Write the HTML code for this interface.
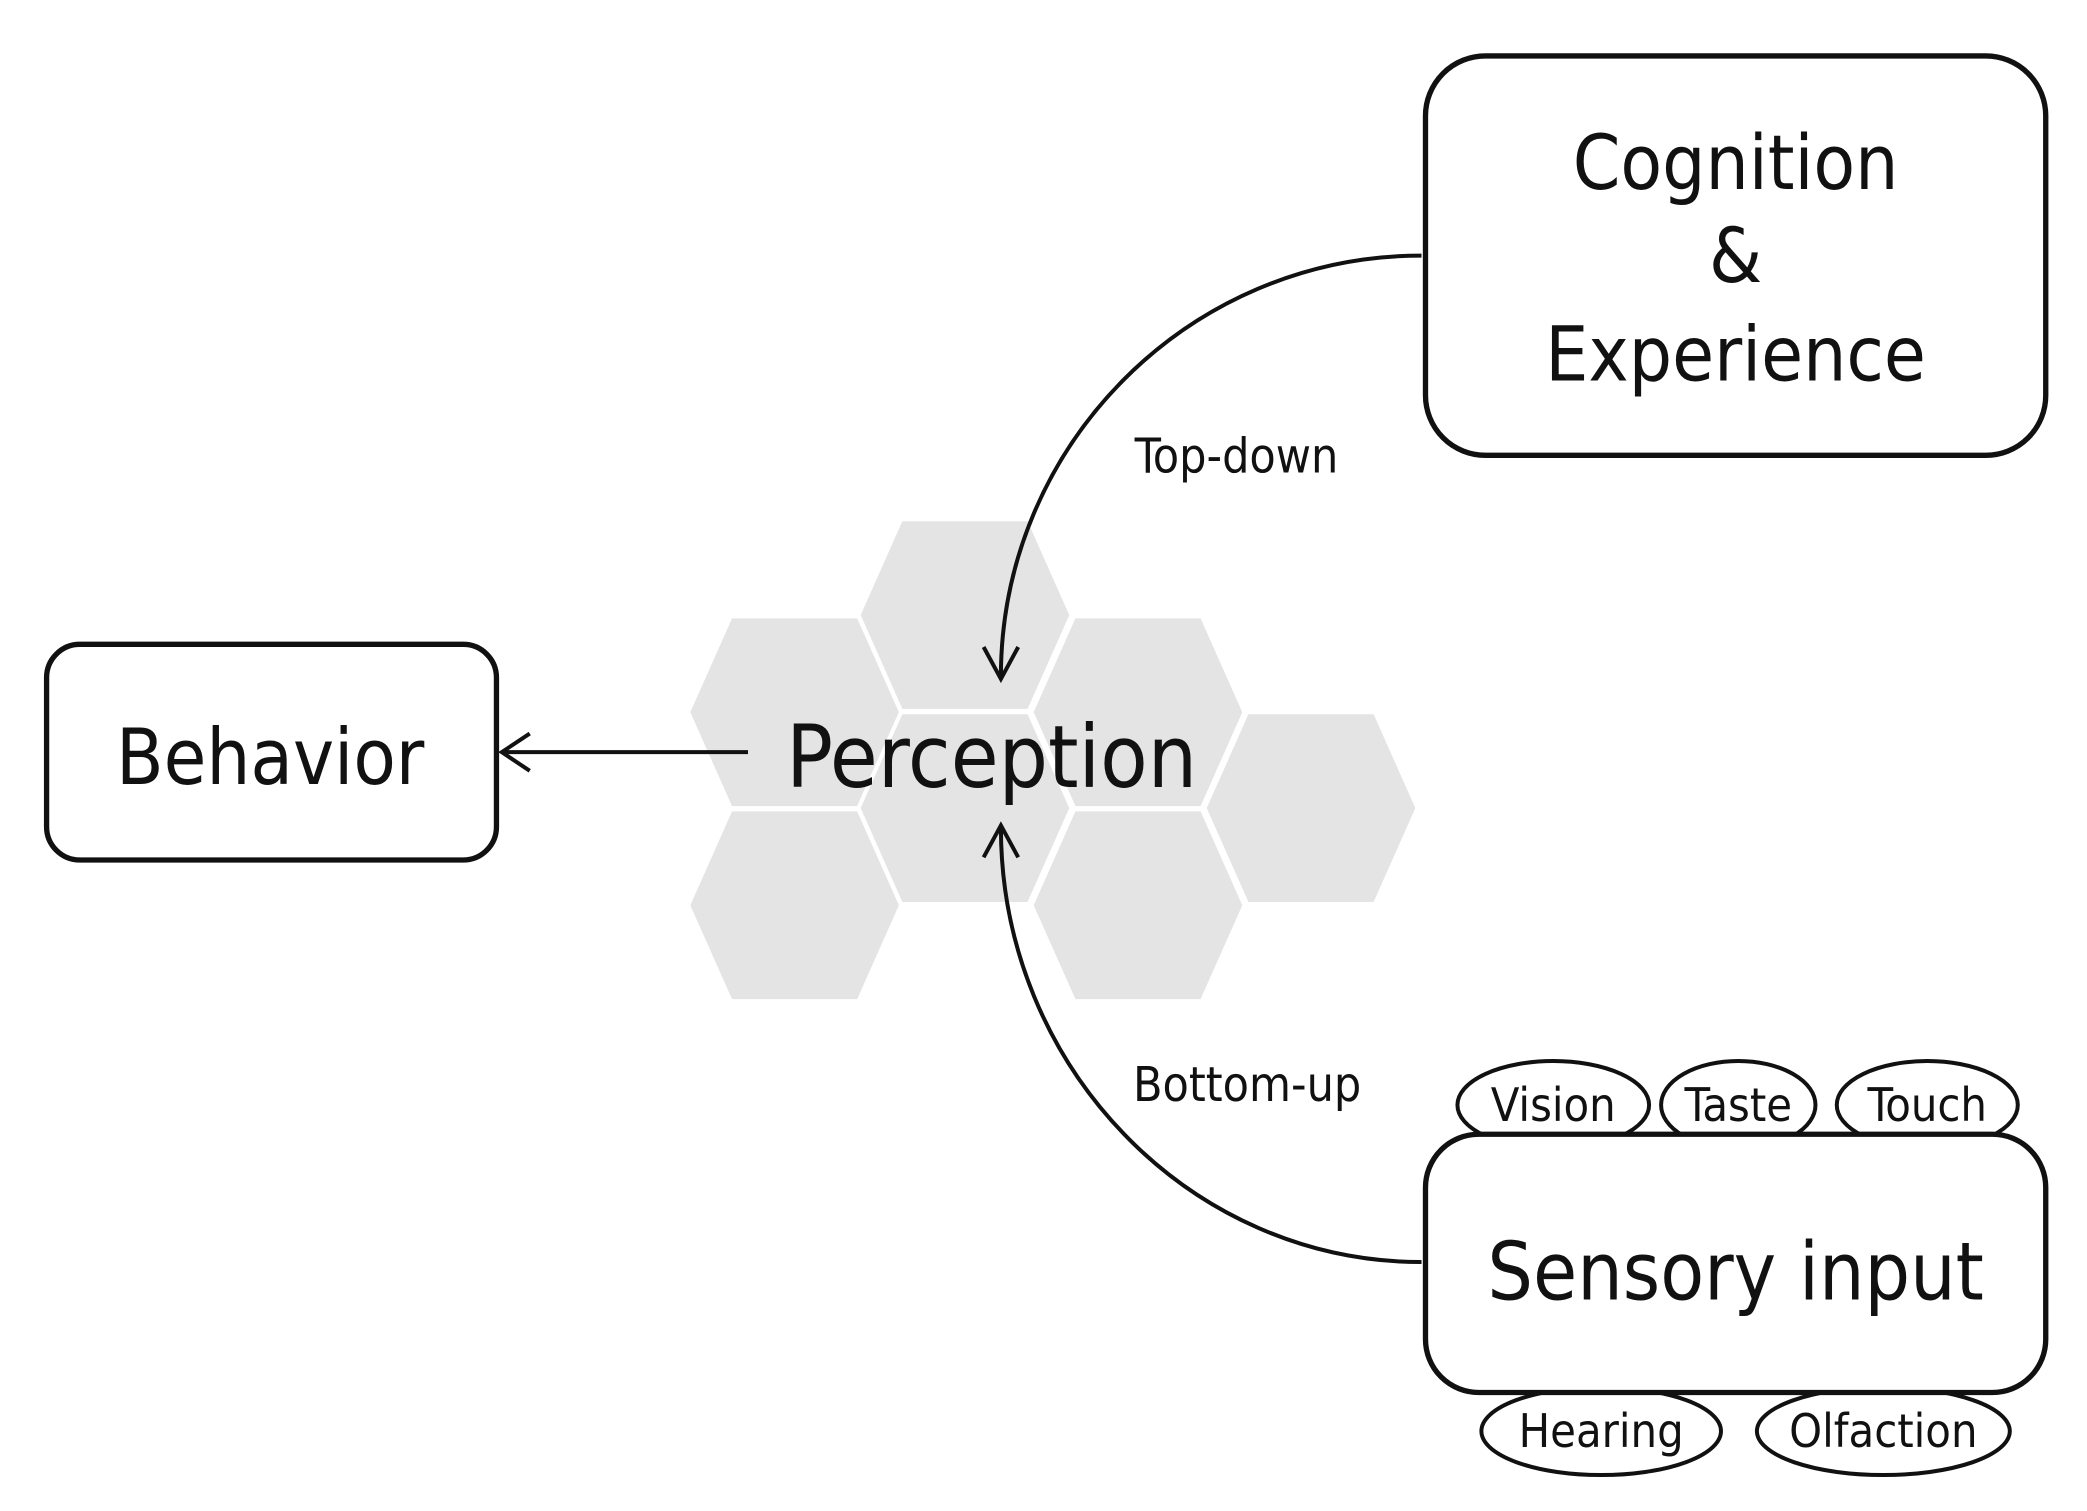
<!DOCTYPE html>
<html><head><meta charset="utf-8"><style>
html,body{margin:0;padding:0;background:#fff;}
svg{display:block;}
text{font-family:"DejaVu Sans Condensed","DejaVu Sans","Liberation Sans",sans-serif;fill:#111;}
</style></head><body>
<svg width="2087" height="1511" viewBox="0 0 1568 1135" preserveAspectRatio="none" xmlns="http://www.w3.org/2000/svg">
<defs>
<polygon id="hx" points="-80,0 -48,-72 48,-72 80,0 48,72 -48,72" fill="#e4e4e4" stroke="#fff" stroke-width="3"/>
</defs>
<use href="#hx" x="725" y="462"/>
<use href="#hx" x="597" y="535"/>
<use href="#hx" x="855" y="535"/>
<use href="#hx" x="725" y="607"/>
<use href="#hx" x="985" y="607"/>
<use href="#hx" x="597" y="680"/>
<use href="#hx" x="855" y="680"/>

<rect x="1071" y="42" width="466" height="300" rx="45" fill="#fff" stroke="#111" stroke-width="4"/>
<text x="1304" y="142" font-size="57" text-anchor="middle">Cognition</text>
<text x="1304" y="212" font-size="57" text-anchor="middle">&amp;</text>
<text x="1304" y="286" font-size="57" text-anchor="middle">Experience</text>

<rect x="35" y="484" width="338" height="162" rx="25" fill="#fff" stroke="#111" stroke-width="4"/>
<text x="203" y="589" font-size="58" text-anchor="middle">Behavior</text>

<text x="745" y="591" font-size="65" text-anchor="middle">Perception</text>
<line x1="562" y1="565" x2="377" y2="565" stroke="#111" stroke-width="3"/>
<polyline points="398,551 377,565 398,579" fill="none" stroke="#111" stroke-width="3"/>

<path d="M1068,192 C893,192 752,335 752,508" fill="none" stroke="#111" stroke-width="3"/>
<polyline points="739,486 752,510 765,486" fill="none" stroke="#111" stroke-width="3"/>
<path d="M1068,948 C893,948 752,800 752,622" fill="none" stroke="#111" stroke-width="3"/>
<polyline points="739,644 752,620 765,644" fill="none" stroke="#111" stroke-width="3"/>
<text x="929" y="355" font-size="36" text-anchor="middle">Top-down</text>
<text x="937" y="827" font-size="36" text-anchor="middle">Bottom-up</text>

<g fill="#fff" stroke="#111" stroke-width="3">
<ellipse cx="1167" cy="830" rx="72" ry="33"/>
<ellipse cx="1306" cy="830" rx="58" ry="33"/>
<ellipse cx="1448" cy="830" rx="68" ry="33"/>
<ellipse cx="1203" cy="1075" rx="90" ry="33"/>
<ellipse cx="1415" cy="1075" rx="95" ry="33"/>
</g>
<g font-size="35" text-anchor="middle">
<text x="1167" y="842">Vision</text>
<text x="1306" y="842">Taste</text>
<text x="1448" y="842">Touch</text>
<text x="1203" y="1087">Hearing</text>
<text x="1415" y="1087">Olfaction</text>
</g>

<rect x="1071" y="852" width="466" height="194" rx="40" fill="#fff" stroke="#111" stroke-width="4"/>
<text x="1304" y="976" font-size="60" text-anchor="middle">Sensory input</text>
</svg>
</body></html>
